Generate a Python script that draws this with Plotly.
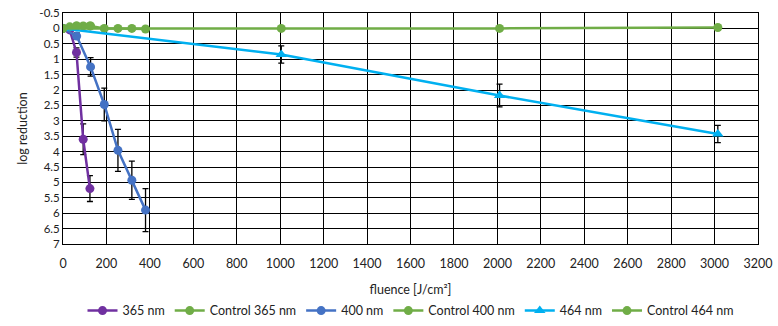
import plotly.graph_objects as go

# Data
x_365 = [0, 31, 62, 93, 124]
y_365 = [0, 0.05, 0.78, 3.6, 5.2]
e_365 = [0, 0, 0.15, 0.5, 0.42]

x_c365 = [0, 31, 62, 93, 124]
y_c365 = [0, -0.05, -0.08, -0.08, -0.08]

x_400 = [0, 63, 127, 190, 253, 317, 380]
y_400 = [0, 0.25, 1.25, 2.47, 3.96, 4.93, 5.9]
e_400 = [0, 0.1, 0.3, 0.53, 0.68, 0.62, 0.7]

x_c400 = [0, 63, 127, 190, 253, 317, 380]
y_c400 = [0, -0.08, -0.08, 0.0, 0.0, 0.0, 0.02]

x_464 = [0, 1005, 2010, 3015]
y_464 = [0, 0.85, 2.18, 3.43]
e_464 = [0, 0.28, 0.37, 0.28]

x_c464 = [0, 1005, 2010, 3015]
y_c464 = [0, 0.0, 0.0, -0.03]

x_ticks = list(range(0, 3201, 200))
y_ticks = [-0.5, 0, 0.5, 1, 1.5, 2, 2.5, 3, 3.5, 4, 4.5, 5, 5.5, 6, 6.5, 7]

PURPLE = "#7030A0"
GREEN = "#70AD47"
BLUE = "#4472C4"
LBLUE = "#00B0F0"

def err(arr):
    return dict(type="data", array=arr, visible=True, color="black", thickness=1.3, width=3)

fig = go.Figure()
fig.add_trace(go.Scatter(x=x_365, y=y_365, name="365 nm", mode="lines+markers",
                         line=dict(color=PURPLE, width=2.5), marker=dict(size=9, color=PURPLE),
                         error_y=err(e_365)))
fig.add_trace(go.Scatter(x=x_c365, y=y_c365, name="Control 365 nm", mode="lines+markers",
                         line=dict(color=GREEN, width=2.5), marker=dict(size=9, color=GREEN)))
fig.add_trace(go.Scatter(x=x_400, y=y_400, name="400 nm", mode="lines+markers",
                         line=dict(color=BLUE, width=2.5), marker=dict(size=9, color=BLUE),
                         error_y=err(e_400)))
fig.add_trace(go.Scatter(x=x_c400, y=y_c400, name="Control 400 nm", mode="lines+markers",
                         line=dict(color=GREEN, width=2.5), marker=dict(size=9, color=GREEN)))
fig.add_trace(go.Scatter(x=x_464, y=y_464, name="464 nm", mode="lines+markers",
                         line=dict(color=LBLUE, width=2.5),
                         marker=dict(size=10, color=LBLUE, symbol="triangle-up"),
                         error_y=err(e_464)))
fig.add_trace(go.Scatter(x=x_c464, y=y_c464, name="Control 464 nm", mode="lines+markers",
                         line=dict(color=GREEN, width=2.5), marker=dict(size=9, color=GREEN)))

font = "Lato, Liberation Sans, sans-serif"
fig.update_layout(
    width=778, height=326,
    margin=dict(l=63, r=20, t=13, b=82, autoexpand=False),
    paper_bgcolor="white", plot_bgcolor="white",
    font=dict(family=font, size=12, color="#222"),
    xaxis=dict(range=[0, 3200], tickvals=x_ticks, ticktext=[str(v) for v in x_ticks],
               showgrid=True, gridcolor="black", gridwidth=1, zeroline=False,
               showline=True, linecolor="black", linewidth=1, mirror=True,
               ticks="", tickfont=dict(size=12.5), ticklabelstandoff=8,
               title=dict(text="fluence [J/cm²]", font=dict(size=12.5), standoff=15)),
    yaxis=dict(range=[7, -0.5], tickvals=y_ticks, ticktext=[str(v) for v in y_ticks],
               showgrid=True, gridcolor="black", gridwidth=1, zeroline=False,
               showline=True, linecolor="black", linewidth=1, mirror=True,
               ticks="", tickfont=dict(size=11.5),
               title=dict(text="log reduction", font=dict(size=12.5), standoff=8)),
    legend=dict(orientation="h", x=0.5, xanchor="center", y=-0.225, yanchor="top",
                font=dict(size=12.5), itemwidth=30, tracegroupgap=0),
    showlegend=True,
)

fig.write_html("out.html")
